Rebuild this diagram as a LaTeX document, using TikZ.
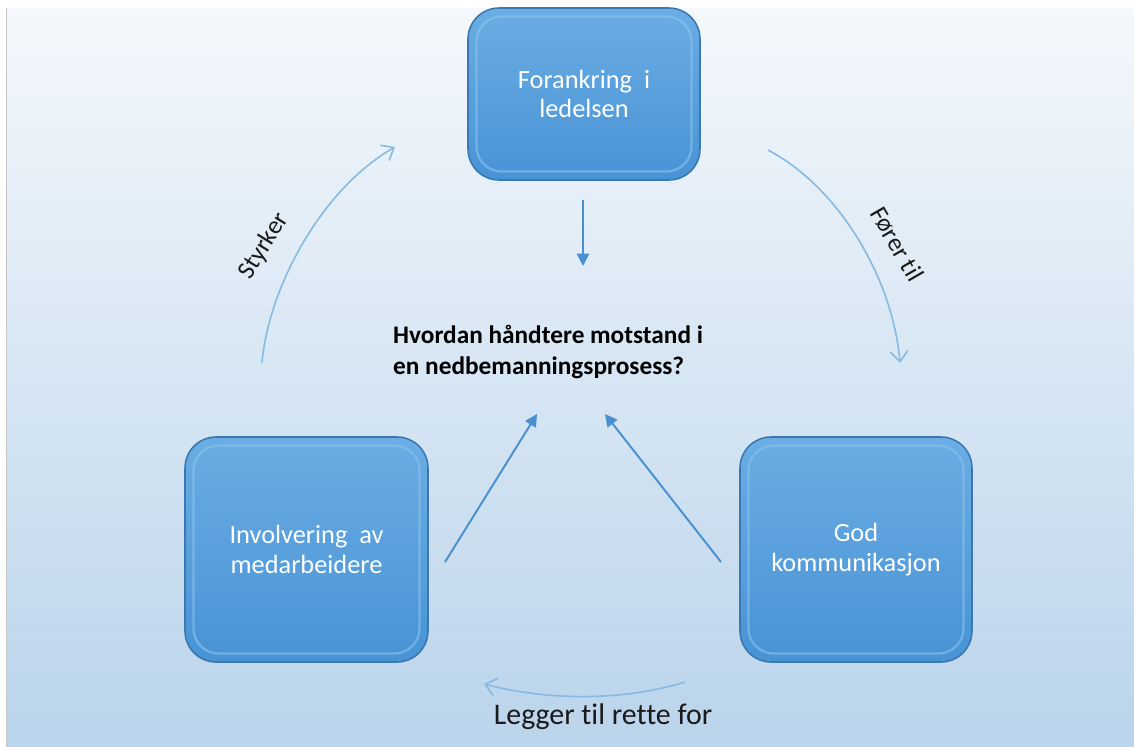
\documentclass[tikz,border=0pt]{standalone}
\usepackage{fontspec}
\setmainfont[Ligatures=NoCommon]{Carlito}
\usetikzlibrary{arrows.meta,calc}
\definecolor{bgtop}{HTML}{F4F8FC}
\definecolor{bgbot}{HTML}{BAD4EB}
\definecolor{boxtop}{HTML}{6BADE4}
\definecolor{boxbot}{HTML}{4893D5}
\definecolor{boxedge}{HTML}{3B78B2}
\definecolor{bevel}{HTML}{8AC4EF}
\definecolor{arrowdark}{HTML}{4A90D0}
\definecolor{arrowlight}{HTML}{86B9E3}
\definecolor{labeltext}{HTML}{1A1A1A}
\tikzset{
  boxnode/.style={draw=boxedge, line width=0.9pt, top color=boxtop, bottom color=boxbot,
    rounded corners=0.62cm, align=center, text=white, font=\fontsize{15}{17}\selectfont,
    path picture={
      \draw[bevel, line width=1.3pt, draw opacity=0.6, rounded corners=0.5cm]
        ($(path picture bounding box.north west)+(0.17cm,-0.17cm)$) rectangle
        ($(path picture bounding box.south east)+(-0.17cm,0.17cm)$);
    }},
  straightarrow/.style={draw=arrowdark, line width=1.1pt, -{Triangle[length=7pt,width=7pt]}},
  curvearrow/.style={draw=arrowlight, line width=0.9pt, -{Straight Barb[length=6pt,width=10pt]}},
  curvelabel/.style={text=labeltext, font=\fontsize{14.5}{16}\selectfont},
  questiontext/.style={text=black, font=\bfseries\fontsize{14.4}{17.6}\selectfont, align=left}
}
\begin{document}
\begin{tikzpicture}[x=0.02cm,y=-0.02cm]
\useasboundingbox (0,0) rectangle (1134,747);
\fill[white] (0,0) rectangle (1134,747);
\shade[top color=bgtop, bottom color=bgbot] (7,8) rectangle (1134,747);
\draw[gray!45, line width=1pt] (6.5,8) -- (6.5,747);

\node[boxnode, minimum width=4.64cm, minimum height=3.44cm] (top) at (584,94) {Forankring\ \ i\\ledelsen};
\node[boxnode, minimum width=4.86cm, minimum height=4.5cm] (left) at (306.5,549.5) {Involvering\ \ av\\medarbeidere};
\node[boxnode, minimum width=4.64cm, minimum height=4.5cm] (right) at (856,549.5) {God\\kommunikasjon};

\node[questiontext, anchor=west] (q) at (387,352) {Hvordan håndtere motstand i\\en nedbemanningsprosess?};

\coordinate (tA) at (583,200);
\coordinate (tB) at (583,266);
\coordinate (lA) at (445,562);
\coordinate (lB) at (537,414);
\coordinate (rA) at (721,562);
\coordinate (rB) at (605,414);
\draw[straightarrow] (tA) -- (tB);
\draw[straightarrow] (lA) -- (lB);
\draw[straightarrow] (rA) -- (rB);

\coordinate (s1) at (262,363);
\coordinate (s2) at (395,147);
\draw[curvearrow] (s1) .. controls (268,290) and (320,190) .. (s2);
\coordinate (f1) at (768,150);
\coordinate (f2) at (900,363);
\draw[curvearrow] (f1) .. controls (840,188) and (893,280) .. (f2);
\coordinate (b1) at (685,682);
\coordinate (b2) at (484,684);
\draw[curvearrow] (b1) .. controls (620,702) and (545,700) .. (b2);

\node[curvelabel, rotate=58] (ls) at (264,246) {Styrker};
\node[curvelabel, rotate=-60] (lf) at (897,244) {Fører til};
\node[curvelabel, font=\fontsize{17}{19}\selectfont] (lb) at (603,717) {Legger til rette for};
\end{tikzpicture}
\end{document}
